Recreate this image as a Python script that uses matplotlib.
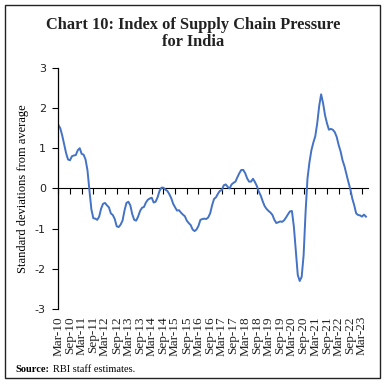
import matplotlib
matplotlib.use("Agg")
import matplotlib.pyplot as plt
from matplotlib.patches import Rectangle

# monthly index values, Mar-2010 onwards (std. deviations from average)
pressure = [
    1.58, 1.50, 1.32, 1.10, 0.88, 0.72, 0.70, 0.80, 0.82, 0.83,
    0.95, 1.00, 0.86, 0.84, 0.72, 0.45, -0.05, -0.52, -0.74, -0.75,
    -0.78, -0.70, -0.50, -0.38, -0.36, -0.42, -0.47, -0.62, -0.66, -0.76,
    -0.94, -0.96, -0.90, -0.80, -0.55, -0.36, -0.33, -0.42, -0.64, -0.78,
    -0.80, -0.70, -0.56, -0.48, -0.46, -0.35, -0.28, -0.25, -0.23, -0.35,
    -0.33, -0.22, -0.06, 0.02, 0.02, -0.03, -0.06, -0.14, -0.24, -0.38,
    -0.47, -0.55, -0.54, -0.60, -0.65, -0.69, -0.80, -0.86, -0.91, -1.02,
    -1.06, -1.02, -0.93, -0.78, -0.76, -0.75, -0.76, -0.72, -0.62, -0.42,
    -0.26, -0.22, -0.13, -0.06, -0.04, 0.08, 0.10, 0.04, 0.00, 0.10,
    0.14, 0.17, 0.28, 0.38, 0.46, 0.46, 0.38, 0.25, 0.17, 0.17,
    0.24, 0.16, 0.06, -0.08, -0.18, -0.32, -0.44, -0.51, -0.56, -0.60,
    -0.66, -0.78, -0.86, -0.84, -0.82, -0.83, -0.79, -0.72, -0.64, -0.57,
    -0.56, -0.95, -1.55, -2.15, -2.30, -2.20, -1.66, -0.60, 0.25, 0.65,
    0.95, 1.14, 1.30, 1.62, 2.05, 2.34, 2.12, 1.82, 1.62, 1.46,
    1.48, 1.46, 1.40, 1.28, 1.08, 0.92, 0.70, 0.55, 0.35, 0.16,
    -0.02, -0.25, -0.42, -0.62, -0.66, -0.67, -0.70, -0.65, -0.70,
]

tick_labels = ['Mar-10', 'Sep-10', 'Mar-11', 'Sep-11', 'Mar-12', 'Sep-12',
               'Mar-13', 'Sep-13', 'Mar-14', 'Sep-14', 'Mar-15', 'Sep-15',
               'Mar-16', 'Sep-16', 'Mar-17', 'Sep-17', 'Mar-18', 'Sep-18',
               'Mar-19', 'Sep-19', 'Mar-20', 'Sep-20', 'Mar-21', 'Sep-21',
               'Mar-22', 'Sep-22', 'Mar-23']
y_ticks = [3, 2, 1, 0, -1, -2, -3]

months = list(range(len(pressure)))
tick_pos = [6 * i for i in range(len(tick_labels))]

fig = plt.figure(figsize=(3.86, 3.85), dpi=100)
ax = fig.add_axes([0.151, 0.197, 0.802, 0.627])

ax.plot(months, pressure, color='#4472C4', lw=1.4)

ax.set_xlim(0, 159)
ax.set_ylim(-3, 3)
ax.set_yticks(y_ticks)
ax.set_yticklabels([str(v) for v in y_ticks], fontsize=8, color='#222222')
ax.tick_params(axis='y', direction='out', length=4, width=0.8, pad=5)

# labels sit at the bottom, tick marks on the zero line
ax.set_xticks(tick_pos)
ax.set_xticklabels(tick_labels, rotation=90, family='Liberation Serif',
                   fontsize=9.5, color='#222222')
ax.tick_params(axis='x', length=0, pad=5)
for s in ['top', 'right', 'bottom']:
    ax.spines[s].set_visible(False)
ax.spines['left'].set_linewidth(0.9)

zero_axis = ax.secondary_xaxis(0.5)
zero_axis.set_xticks(tick_pos)
zero_axis.set_xticklabels([])
zero_axis.tick_params(axis='x', direction='in', length=4, width=0.8,
                      labelbottom=False, labeltop=False)
zero_axis.spines['bottom'].set_linewidth(0.9)

ax.set_ylabel('Standard deviations from average', family='Liberation Serif',
              fontsize=9, labelpad=4)

fig.text(0.5, 0.913, 'Chart 10: Index of Supply Chain Pressure\nfor India',
         ha='center', va='center', family='Liberation Serif',
         fontweight='bold', fontsize=11.8, linespacing=1.1, color='#222222')

src = fig.text(0.041, 0.04, 'Source:', family='Liberation Serif',
               fontweight='bold', fontsize=7.5, va='center')
fig.canvas.draw()
bb = src.get_window_extent().transformed(fig.transFigure.inverted())
fig.text(bb.x1 + 0.008, 0.04, 'RBI staff estimates.', family='Liberation Serif',
         fontsize=7.5, va='center')

fig.patches.append(Rectangle((0.013, 0.018), 0.972, 0.969, transform=fig.transFigure,
                             fill=False, edgecolor='#222222', lw=1.0))

fig.savefig('out.png', dpi=100)
